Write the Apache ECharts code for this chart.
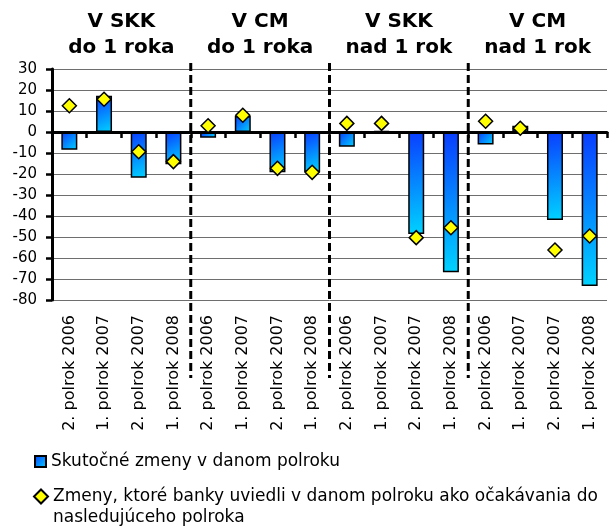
<!DOCTYPE html>
<html>
<head>
<meta charset="utf-8">
<script src="https://cdn.jsdelivr.net/npm/echarts@6/dist/echarts.min.js"></script>
<style>html,body{margin:0;padding:0;background:#fff}#c{width:614px;height:530px}</style>
</head>
<body>
<div id="c"></div>
<script>
const categories = [
  '2. polrok 2006','1. polrok 2007','2. polrok 2007','1. polrok 2008',
  '2. polrok 2006','1. polrok 2007','2. polrok 2007','1. polrok 2008',
  '2. polrok 2006','1. polrok 2007','2. polrok 2007','1. polrok 2008',
  '2. polrok 2006','1. polrok 2007','2. polrok 2007','1. polrok 2008'
];
const groupTitles = ['V SKK\ndo 1 roka', 'V CM\ndo 1 roka', 'V SKK\nnad 1 rok', 'V CM\nnad 1 rok'];
const actualChanges = [-8.5, 17.3, -21.8, -15.4, -2.7, 7.6, -19.2, -19, -7, 0.4, -48.6, -66.8, -5.9, 3, -41.9, -73.3];
const expectedChanges = [12.5, 15.6, -9.4, -14.1, 3, 8, -17.3, -19.2, 4.1, 4.1, -50.3, -45.6, 5.1, 1.8, -56.2, -49.5];
const seriesNames = ['Skutočné zmeny v danom polroku', 'Zmeny, ktoré banky uviedli v danom polroku ako očakávania do nasledujúceho polroka'];
const yMin = -80, yMax = 30, yStep = 10;

const FONT = 'DejaVu Sans';
const chart = echarts.init(document.getElementById('c'), null, {renderer: 'canvas'});
const barGrad = new echarts.graphic.LinearGradient(0, 0, 1, 1, [
  {offset: 0, color: '#0a3cff'},
  {offset: 1, color: '#00d4ff'}
]);
chart.setOption({
  backgroundColor: '#fff',
  animation: false,
  grid: {left: 52, right: 7, top: 69, bottom: 230, containLabel: false},
  legend: [{
    orient: 'vertical', left: 29, top: 448,
    itemWidth: 11, itemHeight: 11, itemGap: 4,
    data: [{name: seriesNames[0], icon: 'rect'}],
    textStyle: {fontFamily: FONT, fontSize: 17, color: '#000'}
  }, {
    orient: 'vertical', left: 28, top: 460,
    itemWidth: 14, itemHeight: 14,
    data: [{name: seriesNames[1], icon: 'diamond'}],
    formatter: function (name) { return '\n' + name.replace(' do ', ' do\n'); },
    textStyle: {fontFamily: FONT, fontSize: 17, color: '#000', lineHeight: 21}
  }],
  xAxis: [{
    type: 'category', data: categories, position: 'bottom', z: 5,
    axisLine: {onZero: true, lineStyle: {color: '#000', width: 3}},
    axisTick: {show: true, interval: 0, length: 6, lineStyle: {color: '#000', width: 2.5}},
    axisLabel: {show: false, interval: 0},
    splitLine: {show: false}
  }, {
    type: 'category', data: categories, position: 'bottom',
    axisLine: {show: false, onZero: false},
    axisTick: {show: false},
    axisLabel: {show: true, interval: 0, rotate: 90, margin: 15, fontFamily: FONT, fontSize: 16, color: '#000'}
  }, {
    type: 'category', data: groupTitles, position: 'top',
    axisLine: {show: false}, axisTick: {show: false},
    axisLabel: {show: true, interval: 0, margin: 8, fontFamily: FONT, fontWeight: 'bold', fontSize: 20, lineHeight: 26, color: '#000'}
  }],
  yAxis: {
    type: 'value', min: yMin, max: yMax, interval: yStep,
    axisLine: {show: true, onZero: false, lineStyle: {color: '#000', width: 3}},
    axisTick: {show: true, length: 6, lineStyle: {color: '#000', width: 2.5}},
    axisLabel: {margin: 15, fontFamily: FONT, fontSize: 15, color: '#000'},
    splitLine: {show: true, lineStyle: {color: '#6e6e6e', width: 1}}
  },
  series: [{
    name: seriesNames[0], type: 'bar', xAxisIndex: 0, data: actualChanges,
    barWidth: 16,
    itemStyle: {color: barGrad, borderColor: '#000', borderWidth: 1.5}
  }, {
    name: seriesNames[1], type: 'scatter', xAxisIndex: 0, data: expectedChanges,
    symbol: 'diamond', symbolSize: [14, 14], z: 10,
    itemStyle: {color: '#ffff00', borderColor: '#000', borderWidth: 1.5, opacity: 1}
  }]
});

// group dividers at category boundaries
const dividers = [];
const yTop = chart.convertToPixel({yAxisIndex: 0}, yMax) - 6;
const yBot = chart.convertToPixel({yAxisIndex: 0}, yMin) + 78;
for (let g = 1; g < groupTitles.length; g++) {
  const i = g * 4;
  const x = (chart.convertToPixel({xAxisIndex: 0}, i - 1) + chart.convertToPixel({xAxisIndex: 0}, i)) / 2;
  dividers.push({
    type: 'line', z: 20,
    shape: {x1: x, y1: yTop, x2: x, y2: yBot},
    style: {stroke: '#000', lineWidth: 3, lineDash: [8, 4]}
  });
}
chart.setOption({graphic: dividers});
</script>
</body>
</html>
